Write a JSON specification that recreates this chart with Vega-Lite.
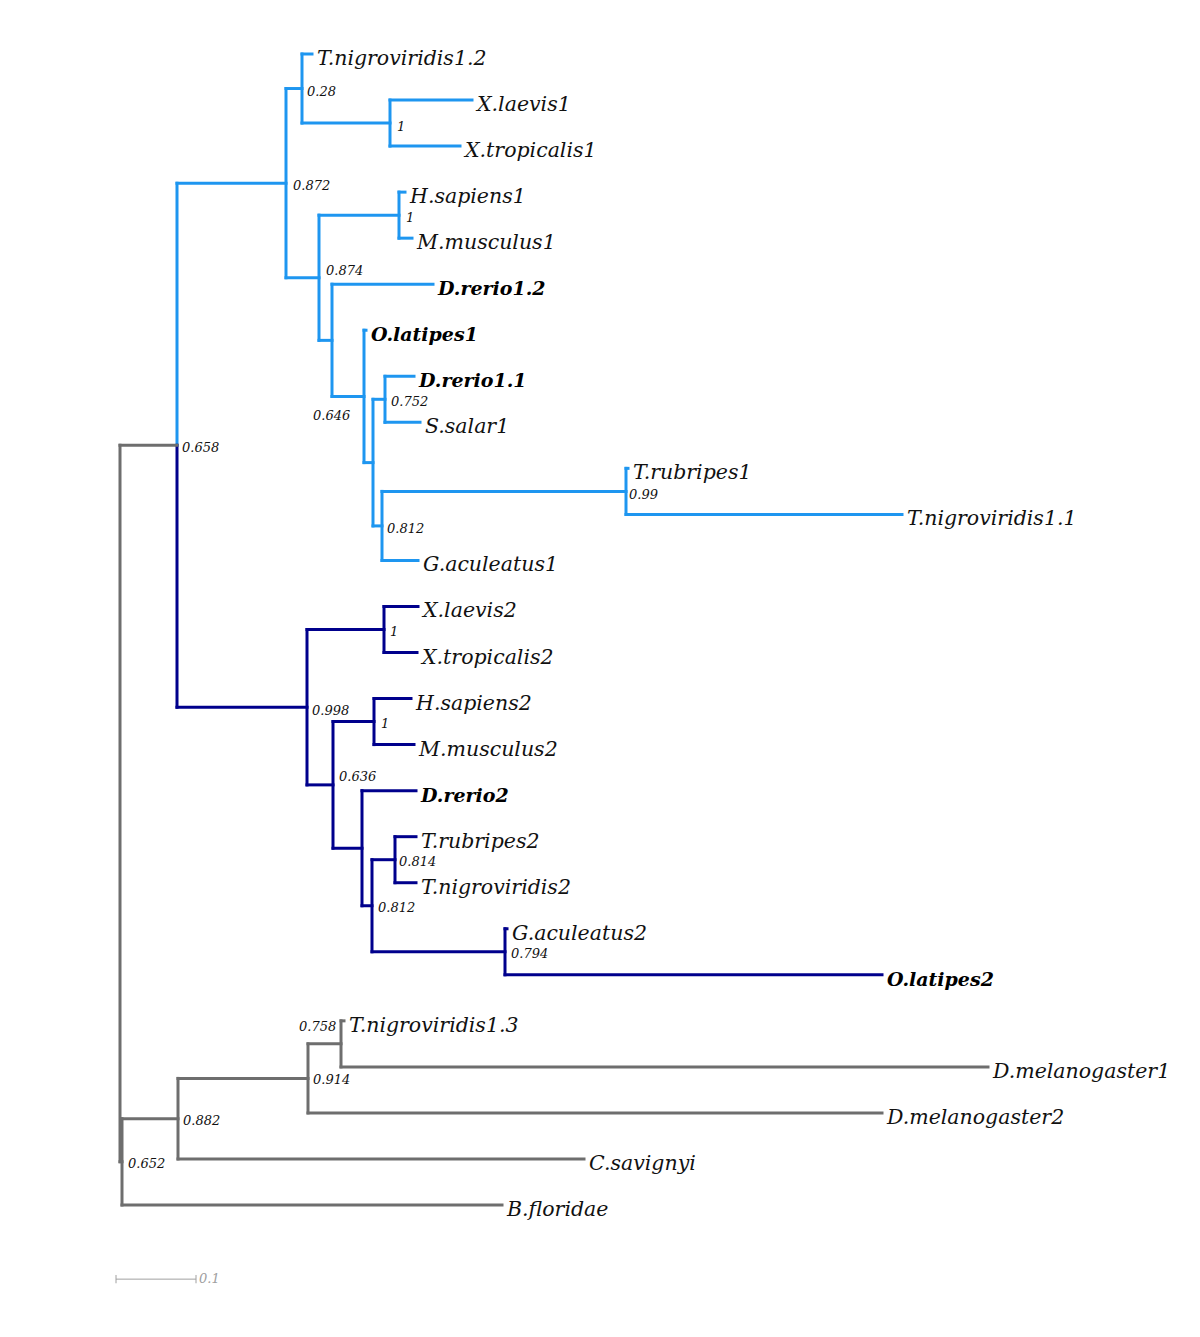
{
  "$schema": "https://vega.github.io/schema/vega-lite/v6.json",
  "width": 1200,
  "height": 1337,
  "padding": 0,
  "autosize": {"type": "none"},
  "background": "#ffffff",
  "config": {"view": {"stroke": null}},
  "datasets": {
    "branches": [
      {"node": "n658-up", "clade": "light", "x": 0.07125, "x2": 0.07125, "y": 2.805, "y2": 8.4975},
      {"node": "n872", "clade": "light", "x": 0.07125, "x2": 0.2075, "y": 2.805, "y2": 2.805},
      {"node": "n872", "clade": "light", "x": 0.2075, "x2": 0.2075, "y": 0.75, "y2": 4.86},
      {"node": "n28", "clade": "light", "x": 0.2075, "x2": 0.2275, "y": 0.75, "y2": 0.75},
      {"node": "n28", "clade": "light", "x": 0.2275, "x2": 0.2275, "y": 0, "y2": 1.5},
      {"node": "T.nigroviridis1.2", "clade": "light", "x": 0.2275, "x2": 0.24, "y": 0, "y2": 0},
      {"node": "nX1", "clade": "light", "x": 0.2275, "x2": 0.3375, "y": 1.5, "y2": 1.5},
      {"node": "nX1", "clade": "light", "x": 0.3375, "x2": 0.3375, "y": 1, "y2": 2},
      {"node": "X.laevis1", "clade": "light", "x": 0.3375, "x2": 0.44, "y": 1, "y2": 1},
      {"node": "X.tropicalis1", "clade": "light", "x": 0.3375, "x2": 0.425, "y": 2, "y2": 2},
      {"node": "n874", "clade": "light", "x": 0.2075, "x2": 0.24875, "y": 4.86, "y2": 4.86},
      {"node": "n874", "clade": "light", "x": 0.24875, "x2": 0.24875, "y": 3.5, "y2": 6.22},
      {"node": "nHM1", "clade": "light", "x": 0.24875, "x2": 0.34875, "y": 3.5, "y2": 3.5},
      {"node": "nHM1", "clade": "light", "x": 0.34875, "x2": 0.34875, "y": 3, "y2": 4},
      {"node": "H.sapiens1", "clade": "light", "x": 0.34875, "x2": 0.35625, "y": 3, "y2": 3},
      {"node": "M.musculus1", "clade": "light", "x": 0.34875, "x2": 0.365, "y": 4, "y2": 4},
      {"node": "nA", "clade": "light", "x": 0.24875, "x2": 0.265, "y": 6.22, "y2": 6.22},
      {"node": "nA", "clade": "light", "x": 0.265, "x2": 0.265, "y": 5, "y2": 7.4375},
      {"node": "D.rerio1.2", "clade": "light", "x": 0.265, "x2": 0.39125, "y": 5, "y2": 5},
      {"node": "n646", "clade": "light", "x": 0.265, "x2": 0.305, "y": 7.4375, "y2": 7.4375},
      {"node": "n646", "clade": "light", "x": 0.305, "x2": 0.305, "y": 6, "y2": 8.875},
      {"node": "O.latipes1", "clade": "light", "x": 0.305, "x2": 0.3075, "y": 6, "y2": 6},
      {"node": "nB", "clade": "light", "x": 0.305, "x2": 0.31625, "y": 8.875, "y2": 8.875},
      {"node": "nB", "clade": "light", "x": 0.31625, "x2": 0.31625, "y": 7.5, "y2": 10.25},
      {"node": "n752", "clade": "light", "x": 0.31625, "x2": 0.33125, "y": 7.5, "y2": 7.5},
      {"node": "n752", "clade": "light", "x": 0.33125, "x2": 0.33125, "y": 7, "y2": 8},
      {"node": "D.rerio1.1", "clade": "light", "x": 0.33125, "x2": 0.3675, "y": 7, "y2": 7},
      {"node": "S.salar1", "clade": "light", "x": 0.33125, "x2": 0.375, "y": 8, "y2": 8},
      {"node": "n812", "clade": "light", "x": 0.31625, "x2": 0.3275, "y": 10.25, "y2": 10.25},
      {"node": "n812", "clade": "light", "x": 0.3275, "x2": 0.3275, "y": 9.5, "y2": 11},
      {"node": "n99", "clade": "light", "x": 0.3275, "x2": 0.6325, "y": 9.5, "y2": 9.5},
      {"node": "n99", "clade": "light", "x": 0.6325, "x2": 0.6325, "y": 9, "y2": 10},
      {"node": "T.rubripes1", "clade": "light", "x": 0.6325, "x2": 0.635, "y": 9, "y2": 9},
      {"node": "T.nigroviridis1.1", "clade": "light", "x": 0.6325, "x2": 0.9775, "y": 10, "y2": 10},
      {"node": "G.aculeatus1", "clade": "light", "x": 0.3275, "x2": 0.3725, "y": 11, "y2": 11},
      {"node": "n658-down", "clade": "dark", "x": 0.07125, "x2": 0.07125, "y": 8.4975, "y2": 14.19},
      {"node": "n998", "clade": "dark", "x": 0.07125, "x2": 0.23375, "y": 14.19, "y2": 14.19},
      {"node": "n998", "clade": "dark", "x": 0.23375, "x2": 0.23375, "y": 12.5, "y2": 15.875},
      {"node": "nX2", "clade": "dark", "x": 0.23375, "x2": 0.33, "y": 12.5, "y2": 12.5},
      {"node": "nX2", "clade": "dark", "x": 0.33, "x2": 0.33, "y": 12, "y2": 13},
      {"node": "X.laevis2", "clade": "dark", "x": 0.33, "x2": 0.3725, "y": 12, "y2": 12},
      {"node": "X.tropicalis2", "clade": "dark", "x": 0.33, "x2": 0.37125, "y": 13, "y2": 13},
      {"node": "n636", "clade": "dark", "x": 0.23375, "x2": 0.26625, "y": 15.875, "y2": 15.875},
      {"node": "n636", "clade": "dark", "x": 0.26625, "x2": 0.26625, "y": 14.5, "y2": 17.25},
      {"node": "nHM2", "clade": "dark", "x": 0.26625, "x2": 0.3175, "y": 14.5, "y2": 14.5},
      {"node": "nHM2", "clade": "dark", "x": 0.3175, "x2": 0.3175, "y": 14, "y2": 15},
      {"node": "H.sapiens2", "clade": "dark", "x": 0.3175, "x2": 0.36375, "y": 14, "y2": 14},
      {"node": "M.musculus2", "clade": "dark", "x": 0.3175, "x2": 0.3675, "y": 15, "y2": 15},
      {"node": "nC", "clade": "dark", "x": 0.26625, "x2": 0.3025, "y": 17.25, "y2": 17.25},
      {"node": "nC", "clade": "dark", "x": 0.3025, "x2": 0.3025, "y": 16, "y2": 18.5},
      {"node": "D.rerio2", "clade": "dark", "x": 0.3025, "x2": 0.37, "y": 16, "y2": 16},
      {"node": "n812b", "clade": "dark", "x": 0.3025, "x2": 0.315, "y": 18.5, "y2": 18.5},
      {"node": "n812b", "clade": "dark", "x": 0.315, "x2": 0.315, "y": 17.5, "y2": 19.5},
      {"node": "n814", "clade": "dark", "x": 0.315, "x2": 0.34375, "y": 17.5, "y2": 17.5},
      {"node": "n814", "clade": "dark", "x": 0.34375, "x2": 0.34375, "y": 17, "y2": 18},
      {"node": "T.rubripes2", "clade": "dark", "x": 0.34375, "x2": 0.37, "y": 17, "y2": 17},
      {"node": "T.nigroviridis2", "clade": "dark", "x": 0.34375, "x2": 0.37, "y": 18, "y2": 18},
      {"node": "n794", "clade": "dark", "x": 0.315, "x2": 0.48125, "y": 19.5, "y2": 19.5},
      {"node": "n794", "clade": "dark", "x": 0.48125, "x2": 0.48125, "y": 19, "y2": 20},
      {"node": "G.aculeatus2", "clade": "dark", "x": 0.48125, "x2": 0.48375, "y": 19, "y2": 19},
      {"node": "O.latipes2", "clade": "dark", "x": 0.48125, "x2": 0.9525, "y": 20, "y2": 20},
      {"node": "root", "clade": "gray", "x": 0, "x2": 0, "y": 8.4975, "y2": 24.06},
      {"node": "n658", "clade": "gray", "x": 0, "x2": 0.07125, "y": 8.4975, "y2": 8.4975},
      {"node": "n652", "clade": "gray", "x": 0, "x2": 0.0025, "y": 24.06, "y2": 24.06},
      {"node": "n652", "clade": "gray", "x": 0.0025, "x2": 0.0025, "y": 23.125, "y2": 25},
      {"node": "n882", "clade": "gray", "x": 0.0025, "x2": 0.0725, "y": 23.125, "y2": 23.125},
      {"node": "n882", "clade": "gray", "x": 0.0725, "x2": 0.0725, "y": 22.25, "y2": 24},
      {"node": "n914", "clade": "gray", "x": 0.0725, "x2": 0.235, "y": 22.25, "y2": 22.25},
      {"node": "n914", "clade": "gray", "x": 0.235, "x2": 0.235, "y": 21.5, "y2": 23},
      {"node": "n758", "clade": "gray", "x": 0.235, "x2": 0.27625, "y": 21.5, "y2": 21.5},
      {"node": "n758", "clade": "gray", "x": 0.27625, "x2": 0.27625, "y": 21, "y2": 22},
      {"node": "T.nigroviridis1.3", "clade": "gray", "x": 0.27625, "x2": 0.28, "y": 21, "y2": 21},
      {"node": "D.melanogaster1", "clade": "gray", "x": 0.27625, "x2": 1.085, "y": 22, "y2": 22},
      {"node": "D.melanogaster2", "clade": "gray", "x": 0.235, "x2": 0.9525, "y": 23, "y2": 23},
      {"node": "C.savignyi", "clade": "gray", "x": 0.0725, "x2": 0.58, "y": 24, "y2": 24},
      {"node": "B.floridae", "clade": "gray", "x": 0.0025, "x2": 0.4775, "y": 25, "y2": 25}
    ],
    "leaves": [
      {"name": "T.nigroviridis1.2", "x": 0.24, "row": 0, "highlight": false},
      {"name": "X.laevis1", "x": 0.44, "row": 1, "highlight": false},
      {"name": "X.tropicalis1", "x": 0.425, "row": 2, "highlight": false},
      {"name": "H.sapiens1", "x": 0.35625, "row": 3, "highlight": false},
      {"name": "M.musculus1", "x": 0.365, "row": 4, "highlight": false},
      {"name": "D.rerio1.2", "x": 0.39125, "row": 5, "highlight": true},
      {"name": "O.latipes1", "x": 0.3075, "row": 6, "highlight": true},
      {"name": "D.rerio1.1", "x": 0.3675, "row": 7, "highlight": true},
      {"name": "S.salar1", "x": 0.375, "row": 8, "highlight": false},
      {"name": "T.rubripes1", "x": 0.635, "row": 9, "highlight": false},
      {"name": "T.nigroviridis1.1", "x": 0.9775, "row": 10, "highlight": false},
      {"name": "G.aculeatus1", "x": 0.3725, "row": 11, "highlight": false},
      {"name": "X.laevis2", "x": 0.3725, "row": 12, "highlight": false},
      {"name": "X.tropicalis2", "x": 0.37125, "row": 13, "highlight": false},
      {"name": "H.sapiens2", "x": 0.36375, "row": 14, "highlight": false},
      {"name": "M.musculus2", "x": 0.3675, "row": 15, "highlight": false},
      {"name": "D.rerio2", "x": 0.37, "row": 16, "highlight": true},
      {"name": "T.rubripes2", "x": 0.37, "row": 17, "highlight": false},
      {"name": "T.nigroviridis2", "x": 0.37, "row": 18, "highlight": false},
      {"name": "G.aculeatus2", "x": 0.48375, "row": 19, "highlight": false},
      {"name": "O.latipes2", "x": 0.9525, "row": 20, "highlight": true},
      {"name": "T.nigroviridis1.3", "x": 0.28, "row": 21, "highlight": false},
      {"name": "D.melanogaster1", "x": 1.085, "row": 22, "highlight": false},
      {"name": "D.melanogaster2", "x": 0.9525, "row": 23, "highlight": false},
      {"name": "C.savignyi", "x": 0.58, "row": 24, "highlight": false},
      {"name": "B.floridae", "x": 0.4775, "row": 25, "highlight": false}
    ],
    "support": [
      {"value": "0.28", "x": 0.23375, "row": 0.825},
      {"value": "1", "x": 0.34625, "row": 1.586},
      {"value": "0.872", "x": 0.21625, "row": 2.867},
      {"value": "1", "x": 0.3575, "row": 3.562},
      {"value": "0.874", "x": 0.2575, "row": 4.713},
      {"value": "0.752", "x": 0.33875, "row": 7.559},
      {"value": "0.646", "x": 0.24125, "row": 7.863},
      {"value": "0.658", "x": 0.0775, "row": 8.558},
      {"value": "0.812", "x": 0.33375, "row": 10.317},
      {"value": "0.99", "x": 0.63625, "row": 9.579},
      {"value": "0.998", "x": 0.24, "row": 14.27},
      {"value": "1", "x": 0.3375, "row": 12.554},
      {"value": "1", "x": 0.32625, "row": 14.553},
      {"value": "0.636", "x": 0.27375, "row": 15.704},
      {"value": "0.814", "x": 0.34875, "row": 17.55},
      {"value": "0.812", "x": 0.3225, "row": 18.55},
      {"value": "0.794", "x": 0.48875, "row": 19.548},
      {"value": "0.758", "x": 0.22375, "row": 21.134},
      {"value": "0.914", "x": 0.24125, "row": 22.285},
      {"value": "0.882", "x": 0.07875, "row": 23.175},
      {"value": "0.652", "x": 0.01, "row": 24.1}
    ],
    "scalebar": [
      {"part": "bar", "x": -0.005, "x2": 0.095, "y": 26.61, "y2": 26.61},
      {"part": "tickL", "x": -0.005, "x2": -0.005, "y": 26.52, "y2": 26.7},
      {"part": "tickR", "x": 0.095, "x2": 0.095, "y": 26.52, "y2": 26.7}
    ],
    "scalelabel": [
      {"text": "0.1", "x": 0.09875, "row": 26.61}
    ]
  },
  "layer": [
    {
      "data": {"name": "branches"},
      "mark": {"type": "rule", "strokeWidth": 3, "strokeCap": "square"},
      "encoding": {
        "x": {"field": "x", "type": "quantitative", "scale": {"domain": [-0.15, 1.35], "nice": false, "zero": false}, "axis": null},
        "x2": {"field": "x2"},
        "y": {"field": "y", "type": "quantitative", "scale": {"domain": [-1.1729, 27.867], "nice": false, "zero": false, "reverse": true}, "axis": null},
        "y2": {"field": "y2"},
        "color": {"field": "clade", "type": "nominal", "scale": {"domain": ["light", "dark", "gray"], "range": ["#1E96F0", "#00008C", "#6E6E6E"]}, "legend": null}
      }
    },
    {
      "data": {"name": "scalebar"},
      "mark": {"type": "rule", "strokeWidth": 1, "color": "#A0A0A0"},
      "encoding": {
        "x": {"field": "x", "type": "quantitative"},
        "x2": {"field": "x2"},
        "y": {"field": "y", "type": "quantitative"},
        "y2": {"field": "y2"}
      }
    },
    {
      "data": {"name": "scalelabel"},
      "mark": {"type": "text", "align": "left", "baseline": "middle", "font": "DejaVu Serif", "fontStyle": "italic", "fontSize": 13, "color": "#A0A0A0"},
      "encoding": {
        "x": {"field": "x", "type": "quantitative"},
        "y": {"field": "row", "type": "quantitative"},
        "text": {"field": "text"}
      }
    },
    {
      "data": {"name": "leaves"},
      "transform": [{"filter": "!datum.highlight"}],
      "mark": {"type": "text", "align": "left", "baseline": "middle", "dx": 5, "dy": 5, "font": "DejaVu Serif", "fontStyle": "italic", "fontSize": 20.5, "color": "#111111"},
      "encoding": {
        "x": {"field": "x", "type": "quantitative"},
        "y": {"field": "row", "type": "quantitative"},
        "text": {"field": "name"}
      }
    },
    {
      "data": {"name": "leaves"},
      "transform": [{"filter": "datum.highlight"}],
      "mark": {"type": "text", "align": "left", "baseline": "middle", "dx": 5, "dy": 5, "font": "DejaVu Serif", "fontStyle": "italic", "fontWeight": "bold", "fontSize": 19, "color": "#000000"},
      "encoding": {
        "x": {"field": "x", "type": "quantitative"},
        "y": {"field": "row", "type": "quantitative"},
        "text": {"field": "name"}
      }
    },
    {
      "data": {"name": "support"},
      "mark": {"type": "text", "align": "left", "baseline": "middle", "font": "DejaVu Serif", "fontStyle": "italic", "fontSize": 13, "color": "#111111"},
      "encoding": {
        "x": {"field": "x", "type": "quantitative"},
        "y": {"field": "row", "type": "quantitative"},
        "text": {"field": "value"}
      }
    }
  ]
}
